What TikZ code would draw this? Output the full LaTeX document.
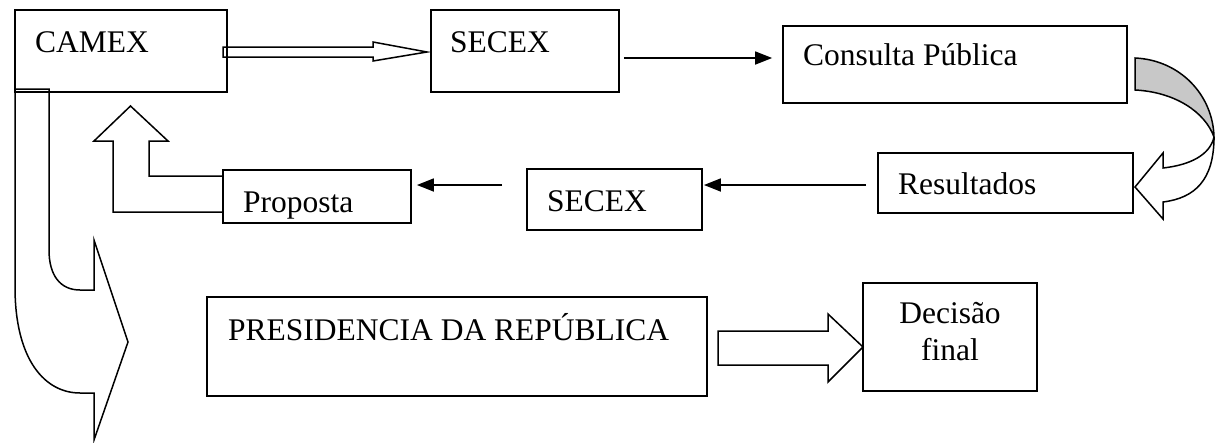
\documentclass[tikz,border=0pt]{standalone}
\usepackage{fontspec}
\setmainfont{Liberation Serif}
\usetikzlibrary{arrows.meta,calc}

\tikzset{
	box/.style={draw, line width=1.8pt, inner sep=0pt},
	txt/.style={anchor=base west, inner sep=0pt, font=\fontsize{31.5pt}{37pt}\selectfont},
	link/.style={line width=1.8pt, -{Triangle[length=17pt,width=13pt]}},
	blockarrow/.style={draw, line width=1.5pt, fill=white, line join=miter},
}

\begin{document}
\begin{tikzpicture}[x=1pt,y=1pt,yscale=-1,xscale=1]
	\fill[white] (0,0) rectangle (1215,442);
	\useasboundingbox (0,0) rectangle (1215,442);

	%Shape: Curved arrow down from CAMEX
	\draw[blockarrow] (15,89) -- (15,287) .. controls (15,360) and (45,393) .. (80,393) -- (94,393) -- (94,440) -- (128,342) -- (94,240) -- (94,290) -- (80,290) .. controls (60,290) and (49,275) .. (49,250) -- (49,89) -- cycle ;
	%Shape: Elbow arrow up to CAMEX
	\draw[blockarrow] (223,176) -- (149,176) -- (149,141) -- (168,141) -- (130.5,106) -- (94,141) -- (113,141) -- (113,212) -- (223,212) -- cycle ;
	%Shape: Hollow arrow CAMEX to SECEX
	\draw[blockarrow] (223,47) -- (373,47) -- (373,42) -- (427,52) -- (373,61) -- (373,57) -- (223,57) -- cycle ;
	%Shape: Curved arrow Consulta to Resultados
	\draw[blockarrow] (1214,137) .. controls (1214,180) and (1195,198) .. (1163,202) -- (1163,219) -- (1135,187) -- (1163,153) -- (1163,168) .. controls (1190,165) and (1210,155) .. (1214,137) ;
	\draw[blockarrow, fill={rgb,255:red,200;green,200;blue,200}] (1135,58) .. controls (1180,60) and (1213,95) .. (1214,137) .. controls (1205,112) and (1175,92) .. (1135,90) -- cycle ;
	%Shape: Arrow PRESIDENCIA to Decisao
	\draw[blockarrow] (718,331) -- (828,331) -- (828,314) -- (863,347) -- (828,382) -- (828,365) -- (718,365) -- cycle ;

	%Boxes
	\node[box, minimum width=212pt, minimum height=82pt] (camex) at (121,51) {};
	\node[box, minimum width=188pt, minimum height=82pt] (secexA) at (525,51) {};
	\node[box, minimum width=344pt, minimum height=77pt] (consulta) at (955,64.5) {};
	\node[box, minimum width=255pt, minimum height=60pt] (resultados) at (1005.5,183) {};
	\node[box, minimum width=175pt, minimum height=61pt] (secexB) at (614.5,199.5) {};
	\node[box, minimum width=188pt, minimum height=53pt] (proposta) at (317,196.5) {};
	\node[box, minimum width=500pt, minimum height=99pt] (presidencia) at (457,346.5) {};
	\node[box, minimum width=174pt, minimum height=108pt] (decisao) at (950,337) {};

	% Text Node
	\node[txt] (camex-txt) at (35,52) {CAMEX};
	\node[txt] (secexA-txt) at (450,52) {SECEX};
	\node[txt] (consulta-txt) at (803,65) {Consulta Pública};
	\node[txt] (resultados-txt) at (898,194) {Resultados};
	\node[txt] (secexB-txt) at (547,211) {SECEX};
	\node[txt] (proposta-txt) at (243,212) {Proposta};
	\node[txt] (presidencia-txt) at (228,340) {PRESIDENCIA DA REPÚBLICA};
	\node[txt, anchor=base, align=center] (decisao-txt) at (950,360) {Decisão\\final};

	%Straight Lines
	\draw[link] ($(secexA.east)+(4,7)$) -- ($(consulta.west)+(-10,-6.5)$) ;
	\draw[link] ($(resultados.west)+(-11,2)$) -- ($(secexB.east)+(1,-14.5)$) ;
	\draw[link] ($(secexB.west)+(-24,-14.5)$) -- ($(proposta.east)+(5,-11.5)$) ;

\end{tikzpicture}
\end{document}
